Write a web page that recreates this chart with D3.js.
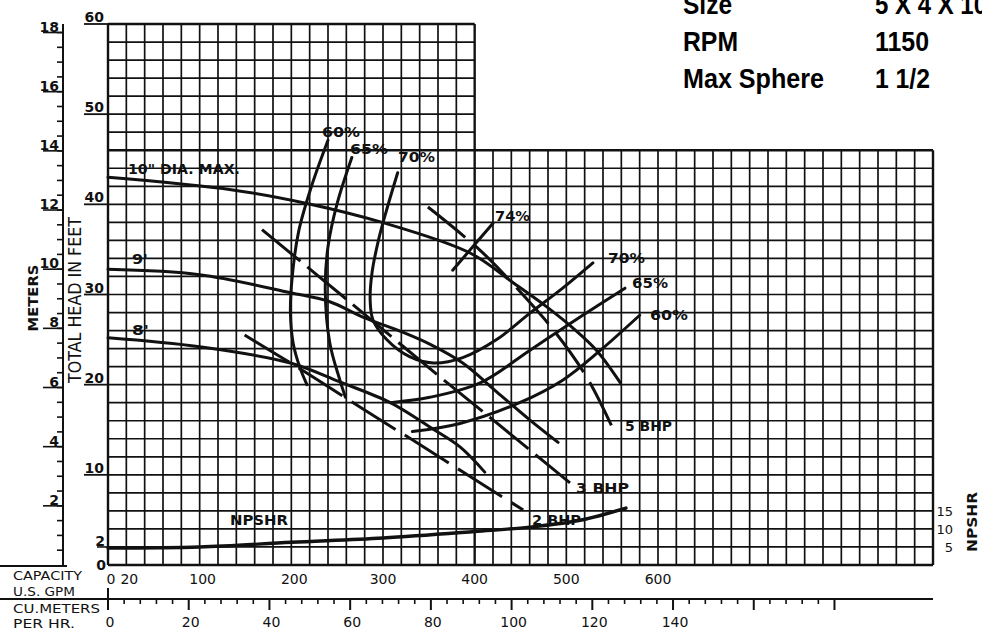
<!DOCTYPE html>
<html><head><meta charset="utf-8">
<script src="https://cdn.jsdelivr.net/npm/d3@7"></script>
<style>body{margin:0;background:#fff}svg{display:block}</style>
</head><body>
<svg id="c" width="982" height="631"></svg>
<script>
// ---------- data ----------
const gpmTicks = [0, 20, 100, 200, 300, 400, 500, 600];
const cumTicks = [0, 20, 40, 60, 80, 100, 120, 140];
const feetTicks = [10, 20, 30, 40, 50, 60];
const meterTicks = [2, 4, 6, 8, 10, 12, 14, 16, 18];
const npshrTicks = [5, 10, 15];

const dia10Gpm = [0, 136, 217, 299, 395, 442, 479, 507, 533, 559];
const dia10Ft  = [43.0, 41.6, 40.1, 38.0, 34.6, 31.3, 28.6, 26.3, 23.8, 20.2];
const dia9Gpm  = [0, 100, 199, 242, 278, 322, 351, 387, 424, 460, 491];
const dia9Ft   = [32.8, 32.2, 30.2, 29.2, 27.5, 25.8, 24.5, 22.4, 19.2, 16.1, 13.6];
const dia8Gpm  = [0, 100, 199, 253, 308, 351, 384, 411];
const dia8Ft   = [25.2, 24.2, 22.4, 20.3, 18.0, 15.3, 13.1, 10.3];

const eff60aGpm = [240, 222, 208, 201, 199, 202, 209, 217];
const eff60aFt  = [47.1, 42.0, 37.0, 32.0, 28.0, 24.6, 22.0, 20.0];
const eff60bGpm = [332, 384, 449, 496, 537, 580];
const eff60bFt  = [14.8, 15.7, 18.0, 20.5, 23.8, 27.7];
const eff65aGpm = [266, 250, 240, 237, 242, 253, 259];
const eff65aFt  = [45.2, 40.1, 35.3, 30.5, 24.6, 20.5, 18.6];
const eff65bGpm = [308, 351, 406, 460, 515, 564];
const eff65bFt  = [18.0, 18.6, 20.2, 23.8, 27.5, 30.7];
const eff70Gpm  = [316, 304, 295, 288, 286, 289, 304, 329, 355, 387, 424, 460, 496, 529];
const eff70Ft   = [43.5, 39.4, 36.0, 32.4, 29.4, 27.2, 25.0, 23.1, 22.4, 23.0, 25.0, 27.9, 30.7, 33.5];
const eff74Gpm  = [376, 420];
const eff74Ft   = [32.7, 37.9];

const bhp5Gpm = [349, 406, 446, 488, 523, 550];
const bhp5Ft  = [39.7, 34.9, 30.7, 25.8, 20.7, 15.3];
const bhp3Gpm = [168, 261, 364, 420, 504];
const bhp3Ft  = [37.2, 29.4, 20.7, 16.1, 9.1];
const bhp2Gpm = [149, 212, 289, 338, 392, 453];
const bhp2Ft  = [25.5, 21.6, 16.6, 13.5, 10.0, 6.1];

const npshrGpm = [0, 100, 200, 300, 400, 460, 515, 565];
const npshrFt  = [4.7, 5.0, 6.3, 7.5, 9.3, 10.5, 12.4, 15.8];

const infoKeys   = ["Size", "RPM", "Max Sphere"];
const infoValues = ["5 X 4 X 10", "1150", "1 1/2"];

// ---------- scales ----------
const svg = d3.select("#c");
const x = d3.scaleLinear().domain([0, 900]).range([108, 933]);
const y = d3.scaleLinear().domain([0, 60]).range([565, 24]);
const yM = d3.scaleLinear().domain([0, 60 / 3.28084]).range([565, 24]);
const yN = d3.scaleLinear().domain([0, 15]).range([y(0), y(6)]);
const xC = d3.scaleLinear().domain([0, 900 / 4.40287]).range([x(0), x(900)]);

const ink = "#111";
const letter = "'DejaVu Sans', Verdana, sans-serif";

// ---------- grid ----------
const g = svg.append("g").attr("stroke", ink).attr("stroke-width", 1.7);
d3.range(0, 901, 20).forEach(v => {
  g.append("line").attr("x1", x(v)).attr("x2", x(v))
   .attr("y1", y(0)).attr("y2", y(v <= 400 ? 60 : 46))
   .attr("stroke-width", (v === 0 || v === 900 || v === 400) ? 2.4 : 1.7);
});
d3.range(0, 61, 2).forEach(v => {
  g.append("line").attr("y1", y(v)).attr("y2", y(v))
   .attr("x1", x(0)).attr("x2", x(v <= 46 ? 900 : 400))
   .attr("stroke-width", (v === 0 || v === 60 || v === 46) ? 2.4 : 1.7);
});

// ---------- left feet axis ----------
const ax = svg.append("g").attr("fill", ink).attr("font-family", letter)
  .attr("font-size", 14).attr("font-weight", "bold");
feetTicks.forEach(v => {
  ax.append("line").attr("x1", 84).attr("x2", x(0)).attr("y1", y(v)).attr("y2", y(v))
    .attr("stroke", ink).attr("stroke-width", 1.8);
  ax.append("text").attr("x", 104).attr("y", y(v) - 2).attr("text-anchor", "end")
    .text(v);
});
ax.append("line").attr("x1", 97).attr("x2", x(0)).attr("y1", y(2)).attr("y2", y(2))
  .attr("stroke", ink).attr("stroke-width", 1.6);
ax.append("text").attr("x", 105).attr("y", y(2) - 1).attr("text-anchor", "end").text("2");
ax.append("text").attr("x", 101).attr("y", y(0) + 5).attr("text-anchor", "middle").text("0");

// ---------- meters axis ----------
const mx = 63;
svg.append("line").attr("x1", mx).attr("x2", mx).attr("y1", y(60)).attr("y2", y(0))
  .attr("stroke", ink).attr("stroke-width", 2);
svg.append("line").attr("x1", 0).attr("x2", 67).attr("y1", y(0) + 1).attr("y2", y(0) + 1)
  .attr("stroke", ink).attr("stroke-width", 1.8);
d3.range(0.5, 18.01, 0.5).forEach(v => {
  svg.append("line").attr("x1", mx - 6).attr("x2", mx).attr("y1", yM(v)).attr("y2", yM(v))
    .attr("stroke", ink).attr("stroke-width", 1.6);
});
meterTicks.forEach(v => {
  svg.append("line").attr("x1", 43).attr("x2", mx).attr("y1", yM(v)).attr("y2", yM(v))
    .attr("stroke", ink).attr("stroke-width", 1.6);
  ax.append("text").attr("x", 59).attr("y", yM(v) - 1).attr("text-anchor", "end").text(v);
});

// axis titles
svg.append("text").attr("transform", "translate(38,298) rotate(-90)")
  .attr("text-anchor", "middle").attr("font-family", letter).attr("font-size", 14)
  .attr("font-weight", "bold").attr("fill", ink)
  .attr("textLength", 67).attr("lengthAdjust", "spacingAndGlyphs").text("METERS");
svg.append("text").attr("transform", "translate(81,300) rotate(-90)")
  .attr("text-anchor", "middle").attr("font-family", letter).attr("font-size", 18)
  .attr("fill", ink).attr("textLength", 166).attr("lengthAdjust", "spacingAndGlyphs")
  .text("TOTAL HEAD IN FEET");

// ---------- bottom GPM labels ----------
gpmTicks.forEach(v => {
  ax.append("text").attr("x", x(v) + (v === 0 ? 3 : (v < 300 ? 3 : 0))).attr("y", 584)
    .attr("text-anchor", "middle").attr("font-weight", "normal").text(v);
});
const btxt = [["CAPACITY", 580, 69], ["U.S. GPM", 596, 62], ["CU.METERS", 613, 87], ["PER HR.", 628, 62]];
btxt.forEach(d => {
  svg.append("text").attr("x", 13).attr("y", d[1]).attr("font-family", letter)
    .attr("font-size", 13).attr("fill", ink).attr("textLength", d[2])
    .attr("lengthAdjust", "spacingAndGlyphs").text(d[0]);
});

// ---------- cubic meters axis ----------
const cy = 599;
svg.append("line").attr("x1", 0).attr("x2", x(900)).attr("y1", cy).attr("y2", cy)
  .attr("stroke", ink).attr("stroke-width", 2);
d3.range(0, 181, 4).forEach(v => {
  const major = v % 20 === 0;
  svg.append("line").attr("x1", xC(v)).attr("x2", xC(v))
    .attr("y1", v === 0 ? 588 : cy).attr("y2", cy + (major ? 11 : 5))
    .attr("stroke", ink).attr("stroke-width", major ? 2 : 1.6);
});
cumTicks.forEach(v => {
  ax.append("text").attr("x", xC(v) + 2).attr("y", 627).attr("text-anchor", "middle")
    .attr("font-weight", "normal").text(v);
});

// ---------- NPSHR right axis ----------
npshrTicks.forEach(v => {
  svg.append("text").attr("x", 953).attr("y", yN(v)).attr("dy", "0.36em")
    .attr("text-anchor", "end").attr("font-family", letter).attr("font-size", 13)
    .attr("fill", ink).text(v);
});
svg.append("text").attr("transform", "translate(977,522) rotate(-90)")
  .attr("text-anchor", "middle").attr("font-family", letter).attr("font-size", 14)
  .attr("font-weight", "bold").attr("fill", ink)
  .attr("textLength", 60).attr("lengthAdjust", "spacingAndGlyphs").text("NPSHR");

// ---------- curves ----------
const zip = (a, b) => a.map((v, i) => [v, b[i]]);
const line = d3.line().x(d => x(d[0])).y(d => y(d[1])).curve(d3.curveCatmullRom.alpha(0.5));
const lineN = d3.line().x(d => x(d[0])).y(d => yN(d[1])).curve(d3.curveCatmullRom.alpha(0.5));
const cg = svg.append("g").attr("fill", "none").attr("stroke", ink)
  .attr("stroke-width", 3).attr("stroke-linecap", "round");

[[dia10Gpm, dia10Ft], [dia9Gpm, dia9Ft], [dia8Gpm, dia8Ft],
 [eff60aGpm, eff60aFt], [eff60bGpm, eff60bFt], [eff65aGpm, eff65aFt],
 [eff65bGpm, eff65bFt], [eff70Gpm, eff70Ft], [eff74Gpm, eff74Ft]].forEach(s => {
  cg.append("path").attr("d", line(zip(s[0], s[1])));
});
[[bhp5Gpm, bhp5Ft, "48,12"], [bhp3Gpm, bhp3Ft, "50,9"], [bhp2Gpm, bhp2Ft, "52,11"]].forEach(s => {
  cg.append("path").attr("d", line(zip(s[0], s[1]))).attr("stroke-dasharray", s[2])
    .attr("stroke-linecap", "butt");
});
cg.append("path").attr("d", lineN(zip(npshrGpm, npshrFt))).attr("stroke-width", 3.4);

// ---------- curve labels ----------
const labels = [
  ["10\" DIA. MAX.", 128, 174, 112],
  ["9'", 132, 264, 16],
  ["8'", 132, 335, 17],
  ["60%", 322, 137, 38],
  ["65%", 350, 154, 38],
  ["70%", 398, 162, 37],
  ["74%", 495, 221, 35],
  ["70%", 608, 263, 37],
  ["65%", 632, 288, 36],
  ["60%", 650, 320, 38],
  ["5 BHP", 625, 431, 47],
  ["3 BHP", 576, 493, 53],
  ["2 BHP", 532, 525, 49],
  ["NPSHR", 230, 525, 58]
];
labels.forEach(d => {
  svg.append("text").attr("x", d[1]).attr("y", d[2]).attr("font-family", letter)
    .attr("font-size", 14).attr("font-weight", "bold").attr("fill", ink)
    .attr("textLength", d[3]).attr("lengthAdjust", "spacingAndGlyphs").text(d[0]);
});

// ---------- header ----------
const hdrFont = "'Liberation Sans Narrow', 'Arial Narrow', 'Liberation Sans', Arial, sans-serif";
const hdrBase = [14, 51, 88];
const keyW = [49, 55, 141];
const valW = [112, 54, 55];
infoKeys.forEach((k, i) => {
  svg.append("text").attr("x", 683).attr("y", hdrBase[i]).attr("font-family", hdrFont)
    .attr("font-weight", "bold").attr("font-size", 28).attr("fill", "#000")
    .attr("textLength", keyW[i]).attr("lengthAdjust", "spacingAndGlyphs").text(k);
  svg.append("text").attr("x", 875).attr("y", hdrBase[i]).attr("font-family", hdrFont)
    .attr("font-weight", "bold").attr("font-size", 28).attr("fill", "#000")
    .attr("textLength", valW[i]).attr("lengthAdjust", "spacingAndGlyphs").text(infoValues[i]);
});
</script>
</body></html>
